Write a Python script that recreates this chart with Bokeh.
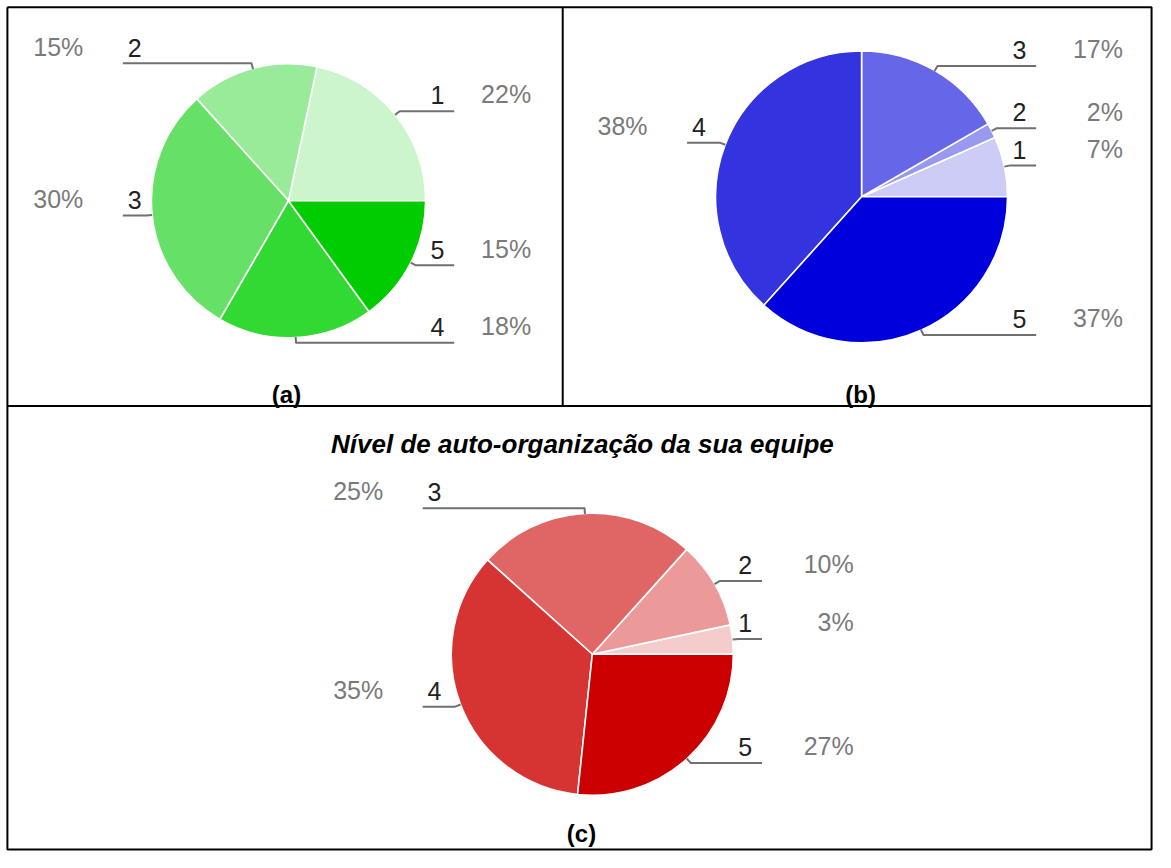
import math
from bokeh.plotting import figure
from bokeh.models import Range1d, ColumnDataSource
from bokeh.core.properties import value
from bokeh.embed import file_html
from bokeh.resources import INLINE

# ---------------- data ----------------
categories = ["1", "2", "3", "4", "5"]
counts_a = [13, 9, 18, 11, 9]      # responses per level, panel (a)
counts_b = [4, 1, 10, 23, 22]      # panel (b)
counts_c = [2, 6, 15, 21, 16]      # panel (c)
pct_a = ["22%", "15%", "30%", "18%", "15%"]
pct_b = ["7%", "2%", "17%", "38%", "37%"]
pct_c = ["3%", "10%", "25%", "35%", "27%"]
panel_labels = ["(a)", "(b)", "(c)"]
title_c = "Nível de auto-organização da sua equipe"

# ---------------- styles ----------------
colors_a = ["#ccf5cc", "#99eb99", "#66e066", "#33d933", "#00cc00"]
colors_b = ["#ccccf7", "#9999ef", "#6666e8", "#3333e0", "#0000dd"]
colors_c = ["#f5cccc", "#eb9999", "#e06666", "#d63333", "#cc0000"]
FONT = value("Liberation Sans")
NUM_COLOR = "#222222"
PCT_COLOR = "#7a7a7a"
LEADER_COLOR = "#707070"

W, H = 1155, 852
REF_W, REF_H = 1171, 868
p = figure(width=W, height=H, x_range=Range1d(0, REF_W), y_range=Range1d(-REF_H, 0),
           output_backend="svg", toolbar_location=None, min_border=0,
           x_axis_location=None, y_axis_location=None)
p.grid.visible = False
p.outline_line_color = None
p.background_fill_color = "white"
p.border_fill_color = "white"


def draw_pie(counts, pcts, colors, cx, cy, r, pct_gap):
    total = float(sum(counts))
    starts, ends = [], []
    acc = 0
    for c in counts:
        starts.append(2 * math.pi * acc / total)
        acc += c
        ends.append(2 * math.pi * acc / total)
    src = ColumnDataSource(dict(start=starts, end=ends, color=colors, cat=categories))
    p.wedge(x=cx, y=-cy, radius=r, start_angle="start", end_angle="end",
            direction="anticlock", fill_color="color", line_color="white",
            line_width=1.6, source=src)

    xs, ys = [], []
    nr = dict(x=[], y=[], t=[])
    nl = dict(x=[], y=[], t=[])
    pr = dict(x=[], y=[], t=[])
    pl = dict(x=[], y=[], t=[])
    lift = 16
    for s, e, cat, pc in zip(starts, ends, categories, pcts):
        m = (s + e) / 2
        ux, uy = math.cos(m), math.sin(m)
        px_, py_ = cx + r * ux, -cy + r * uy
        qx, qy = cx + (r + 6) * ux, -cy + (r + 6) * uy
        if ux >= 0:
            end = cx + r + 29
            nr["x"].append(end - 10); nr["y"].append(qy + lift); nr["t"].append(cat)
            pr["x"].append(end + pct_gap); pr["y"].append(qy + lift + 1); pr["t"].append(pc)
        else:
            end = cx - r - 29
            nl["x"].append(end + 5); nl["y"].append(qy + lift); nl["t"].append(cat)
            pl["x"].append(end - 40); pl["y"].append(qy + lift + 1); pl["t"].append(pc)
        xs.append([px_, qx, end])
        ys.append([py_, qy, qy])
    p.multi_line(xs=xs, ys=ys, line_color=LEADER_COLOR, line_width=2)
    for d, align, col in ((nr, "right", NUM_COLOR), (nl, "left", NUM_COLOR),
                          (pr, "right", PCT_COLOR), (pl, "right", PCT_COLOR)):
        if d["x"]:
            p.text(x="x", y="y", text="t", source=ColumnDataSource(d),
                   text_align=align, text_baseline="alphabetic",
                   text_font=FONT, text_font_size="25px", text_color=col)


draw_pie(counts_a, pct_a, colors_a, 292, 204, 139, 78)
draw_pie(counts_b, pct_b, colors_b, 873, 200, 148, 88)
draw_pie(counts_c, pct_c, colors_c, 600, 666, 143, 93)

# panel captions
p.text(x=[290, 872], y=[-401, -401], text=panel_labels[:2],
       text_align="center", text_baseline="alphabetic", text_font=FONT,
       text_font_size="24px", text_font_style="bold", text_color="black")
p.text(x=[589], y=[-849], text=panel_labels[2:],
       text_align="center", text_baseline="alphabetic", text_font=FONT,
       text_font_size="24px", text_font_style="bold", text_color="black")
p.text(x=[590], y=[-452], text=[title_c], text_align="center",
       text_baseline="alphabetic", text_font=FONT, text_font_size="26px",
       text_font_style="bold italic", text_color="black")

# table borders
p.multi_line(xs=[[7, 1167, 1167, 7, 7], [570, 570], [7, 1167]],
             ys=[[-7, -7, -865, -865, -7], [-7, -413], [-413, -413]],
             line_color="black", line_width=2)

open("out.html", "w").write(file_html(p, INLINE))
